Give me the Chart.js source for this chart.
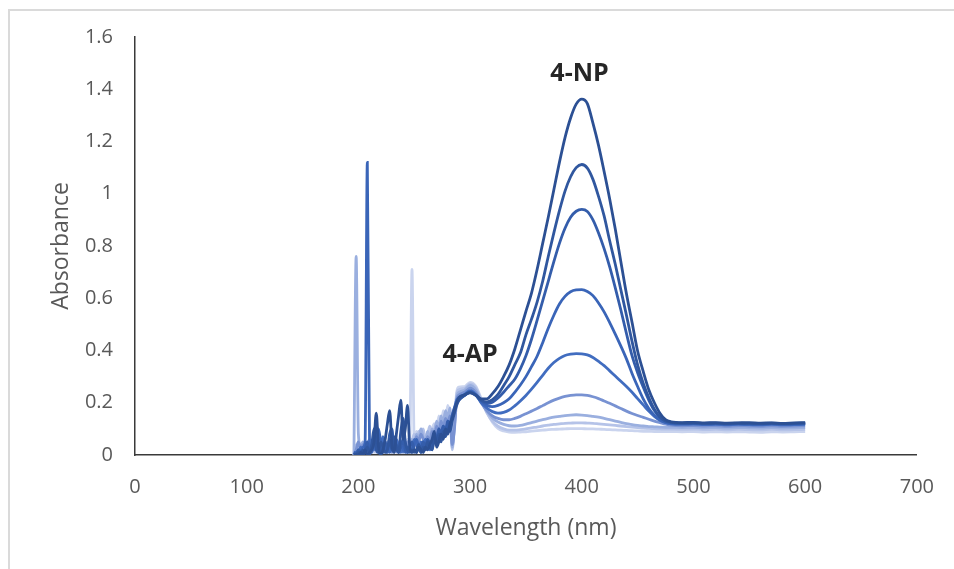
<!DOCTYPE html>
<html>
<head>
<meta charset="utf-8">
<title>UV-vis spectra 4-NP reduction</title>
<script src="https://cdn.jsdelivr.net/npm/chart.js@4.4.1/dist/chart.umd.min.js"></script>
<style>
  html, body { margin: 0; padding: 0; background: #fff; overflow: hidden; }
  #wrap { position: relative; width: 954px; height: 569px; }
  #frame {
    position: absolute; left: 8px; top: 9px; width: 980px; height: 600px;
    border-left: 2px solid #dadada; border-top: 2px solid #dadada;
  }
  #spectra { position: absolute; left: 0; top: 0; width: 954px; height: 569px; }
</style>
</head>
<body>
<div id="wrap">
  <div id="frame"></div>
  <canvas id="spectra" width="954" height="569"></canvas>
</div>
<script>
/**
 * UV-vis absorbance spectra: 4-nitrophenol band (400 nm) fading while
 * the 4-aminophenol band (300 nm) grows.
 */

// Wavelength grid (nm): 2 nm through the noisy UV end, 5 nm over the bands, 10 nm on the flat tail
const WL_UV = [196, 198, 200, 202, 204, 206, 208, 210, 212, 214, 216, 218, 220, 222, 224, 226,
  228, 230, 232, 234, 236, 238, 240, 242, 244, 246, 248, 250, 252, 254, 256, 258, 260, 262,
  264, 266, 268, 270, 272, 274, 276, 278, 280, 282, 284, 286, 288, 290];
const WL_BAND = [295, 300, 305, 310, 315, 320, 325, 330, 335, 340, 345, 350, 355, 360, 365, 370,
  375, 380, 385, 390, 395, 400, 405, 410, 415, 420, 425, 430, 435, 440, 445, 450, 455, 460,
  465, 470, 475];
const WL_TAIL = [480, 490, 500, 510, 520, 530, 540, 550, 560, 570, 580, 590, 600];
const WAVELENGTHS = [...WL_UV, ...WL_BAND, ...WL_TAIL];

// Absorbance per scan, darkest (first) to lightest (last)
const scan1 = [
  0, 0, 0, 0.01, 0, 0.02, 0, 0.01, 0.02, 0.05, 0.16, 0.03, 0, 0.02, 0.06, 0.12, 0.17, 0.04, 0.01, 0.08,
  0.15, 0.21, 0.06, 0.1, 0.19, 0.03, 0.01, 0.02, 0.01, 0.03, 0.02, 0.01, 0.03, 0.02, 0.04, 0.06, 0.09, 0.03, 0.05, 0.08,
  0.06, 0.1, 0.08, 0.12, 0.14, 0.17, 0.2, 0.22,
  0.23, 0.238, 0.23, 0.215, 0.215, 0.235, 0.262, 0.30, 0.345, 0.405, 0.477, 0.55, 0.62, 0.71, 0.81, 0.91, 1.015, 1.12, 1.215, 1.29,
  1.343, 1.362, 1.345, 1.27, 1.185, 1.085, 0.98, 0.865, 0.74, 0.617, 0.508, 0.398, 0.32, 0.25, 0.2, 0.16, 0.135,
  0.127, 0.124, 0.125, 0.123, 0.124, 0.122, 0.123, 0.124, 0.122, 0.123, 0.121, 0.123, 0.124];
const scan2 = [
  0, 0, 0.01, 0, 0.02, 0.01, 0.03, 0, 0.04, 0.1, 0.02, 0.01, 0.05, 0.03, 0.01, 0.02, 0.06, 0.02, 0.07, 0.03,
  0.01, 0.09, 0.14, 0.05, 0.02, 0.01, 0.02, 0.01, 0.02, 0.04, 0.01, 0.03, 0.02, 0.05, 0.03, 0.02, 0.06, 0.04, 0.08, 0.05,
  0.09, 0.07, 0.1, 0.09, 0.13, 0.16, 0.19, 0.21,
  0.228, 0.24, 0.228, 0.21, 0.203, 0.212, 0.232, 0.265, 0.3, 0.345, 0.39, 0.46, 0.52, 0.585, 0.665, 0.76, 0.85, 0.935, 1.01, 1.065,
  1.1, 1.112, 1.098, 1.055, 0.99, 0.915, 0.82, 0.73, 0.632, 0.535, 0.435, 0.345, 0.275, 0.22, 0.175, 0.145, 0.13,
  0.125, 0.122, 0.123, 0.121, 0.122, 0.12, 0.122, 0.121, 0.12, 0.122, 0.12, 0.121, 0.122];
const scan3 = [
  0.01, 0, 0.02, 0.01, 0, 0.02, 0.05, 0.01, 0.03, 0.08, 0.12, 0.02, 0.01, 0.03, 0.05, 0.02, 0.08, 0.1, 0.02, 0.04,
  0.01, 0.03, 0.06, 0.02, 0.01, 0.03, 0.05, 0.02, 0.01, 0.04, 0.02, 0.05, 0.03, 0.06, 0.04, 0.02, 0.07, 0.05, 0.1, 0.08,
  0.11, 0.09, 0.13, 0.12, 0.15, 0.18, 0.2, 0.21,
  0.228, 0.242, 0.23, 0.208, 0.198, 0.202, 0.218, 0.24, 0.265, 0.29, 0.33, 0.38, 0.443, 0.515, 0.59, 0.665, 0.74, 0.81, 0.868, 0.91,
  0.933, 0.94, 0.932, 0.9, 0.85, 0.79, 0.72, 0.64, 0.555, 0.465, 0.38, 0.315, 0.26, 0.21, 0.17, 0.145, 0.13,
  0.124, 0.121, 0.122, 0.12, 0.121, 0.119, 0.121, 0.12, 0.119, 0.121, 0.119, 0.12, 0.121];
const scan4 = [
  0, 0, 0.02, 0.01, 0.03, 0.05, 1.12, 0.04, 0.01, 0.06, 0.02, 0.1, 0.05, 0.01, 0.02, 0.04, 0.01, 0.03, 0.05, 0.02,
  0.01, 0.04, 0.02, 0.01, 0.03, 0.02, 0.01, 0.04, 0.06, 0.03, 0.01, 0.05, 0.03, 0.02, 0.05, 0.03, 0.07, 0.05, 0.09, 0.06,
  0.1, 0.08, 0.12, 0.1, 0.14, 0.17, 0.2, 0.22,
  0.228, 0.242, 0.23, 0.205, 0.19, 0.185, 0.19, 0.2, 0.215, 0.24, 0.268, 0.3, 0.338, 0.378, 0.43, 0.485, 0.535, 0.578, 0.607, 0.625,
  0.632, 0.633, 0.626, 0.61, 0.582, 0.548, 0.507, 0.463, 0.417, 0.368, 0.312, 0.262, 0.215, 0.178, 0.152, 0.135, 0.125,
  0.121, 0.12, 0.121, 0.119, 0.12, 0.118, 0.12, 0.119, 0.118, 0.12, 0.118, 0.119, 0.12];
const scan5 = [
  0.01, 0.01, 0, 0.03, 0.01, 0.02, 0.04, 0.01, 0.03, 0.02, 0.05, 0.01, 0.03, 0.07, 0.02, 0.01, 0.03, 0.05, 0.02, 0.06,
  0.03, 0.01, 0.02, 0.04, 0.01, 0.03, 0.02, 0.06, 0.04, 0.02, 0.05, 0.03, 0.06, 0.04, 0.02, 0.05, 0.08, 0.06, 0.1, 0.07,
  0.11, 0.09, 0.13, 0.11, 0.15, 0.18, 0.21, 0.22,
  0.232, 0.246, 0.232, 0.2, 0.18, 0.166, 0.16, 0.163, 0.172, 0.188, 0.207, 0.228, 0.252, 0.278, 0.305, 0.332, 0.354, 0.37, 0.381, 0.386,
  0.388, 0.387, 0.383, 0.373, 0.358, 0.342, 0.322, 0.302, 0.282, 0.262, 0.24, 0.216, 0.192, 0.168, 0.148, 0.133, 0.124,
  0.119, 0.117, 0.118, 0.116, 0.117, 0.115, 0.117, 0.116, 0.115, 0.117, 0.115, 0.116, 0.117];
const scan6 = [
  0, 0.02, 0.05, 0.02, 0.04, 0.01, 0.03, 0.02, 0.01, 0.04, 0.02, 0.03, 0.01, 0.05, 0.03, 0.02, 0.04, 0.01, 0.03, 0.05,
  0.02, 0.04, 0.01, 0.03, 0.05, 0.02, 0.04, 0.03, 0.07, 0.05, 0.08, 0.06, 0.04, 0.07, 0.05, 0.09, 0.06, 0.11, 0.08, 0.13,
  0.1, 0.14, 0.12, 0.15, 0.04, 0.1, 0.21, 0.23,
  0.24, 0.256, 0.24, 0.2, 0.17, 0.15, 0.14, 0.135, 0.135, 0.14, 0.148, 0.158, 0.168, 0.178, 0.189, 0.2, 0.21, 0.218, 0.224, 0.228,
  0.23, 0.23, 0.228, 0.223, 0.216, 0.207, 0.198, 0.188, 0.178, 0.168, 0.159, 0.151, 0.144, 0.137, 0.13, 0.124, 0.118,
  0.114, 0.112, 0.113, 0.111, 0.112, 0.11, 0.112, 0.111, 0.11, 0.112, 0.11, 0.111, 0.112];
const scan7 = [
  0, 0.76, 0.08, 0.03, 0.05, 0.02, 0.04, 0.06, 0.02, 0.03, 0.05, 0.02, 0.04, 0.01, 0.03, 0.05, 0.02, 0.04, 0.01, 0.03,
  0.05, 0.02, 0.04, 0.02, 0.05, 0.03, 0.06, 0.04, 0.08, 0.06, 0.1, 0.07, 0.05, 0.09, 0.06, 0.1, 0.08, 0.13, 0.1, 0.15,
  0.12, 0.17, 0.14, 0.18, 0.03, 0.11, 0.22, 0.24,
  0.248, 0.266, 0.25, 0.205, 0.168, 0.142, 0.126, 0.117, 0.112, 0.111, 0.113, 0.118, 0.124, 0.13, 0.135, 0.14, 0.145, 0.148, 0.151, 0.153,
  0.154, 0.153, 0.151, 0.148, 0.145, 0.14, 0.135, 0.13, 0.125, 0.12, 0.116, 0.113, 0.111, 0.109, 0.108, 0.107, 0.106,
  0.106, 0.105, 0.106, 0.104, 0.105, 0.103, 0.105, 0.104, 0.103, 0.105, 0.103, 0.104, 0.105];
const scan8 = [
  0, 0.04, 0.02, 0.03, 0.01, 0.04, 0.02, 0.03, 0.05, 0.02, 0.01, 0.04, 0.02, 0.03, 0.05, 0.01, 0.03, 0.02, 0.04, 0.01,
  0.03, 0.05, 0.02, 0.04, 0.01, 0.03, 0.05, 0.08, 0.06, 0.09, 0.07, 0.1, 0.06, 0.08, 0.11, 0.07, 0.1, 0.12, 0.09, 0.14,
  0.11, 0.16, 0.13, 0.17, 0.02, 0.12, 0.23, 0.25,
  0.255, 0.272, 0.258, 0.21, 0.162, 0.13, 0.11, 0.1, 0.095, 0.095, 0.097, 0.1, 0.104, 0.107, 0.111, 0.114, 0.117, 0.119, 0.121, 0.122,
  0.123, 0.123, 0.122, 0.121, 0.119, 0.117, 0.115, 0.113, 0.111, 0.109, 0.107, 0.105, 0.103, 0.102, 0.101, 0.1, 0.099,
  0.099, 0.098, 0.099, 0.097, 0.098, 0.096, 0.098, 0.097, 0.096, 0.098, 0.096, 0.097, 0.098];
const scan9 = [
  0, 0.02, 0.05, 0.03, 0.01, 0.04, 0.02, 0.05, 0.03, 0.01, 0.04, 0.02, 0.05, 0.03, 0.01, 0.04, 0.02, 0.05, 0.03, 0.06,
  0.02, 0.04, 0.05, 0.03, 0.06, 0.04, 0.71, 0.05, 0.09, 0.06, 0.1, 0.08, 0.05, 0.09, 0.07, 0.1, 0.12, 0.08, 0.15, 0.11,
  0.17, 0.13, 0.19, 0.15, 0.03, 0.13, 0.24, 0.26,
  0.262, 0.278, 0.264, 0.215, 0.163, 0.126, 0.102, 0.092, 0.088, 0.087, 0.088, 0.089, 0.091, 0.093, 0.095, 0.097, 0.098, 0.099, 0.1, 0.101,
  0.101, 0.101, 0.1, 0.1, 0.099, 0.098, 0.097, 0.096, 0.095, 0.094, 0.093, 0.092, 0.091, 0.091, 0.09, 0.09, 0.09,
  0.09, 0.089, 0.09, 0.088, 0.089, 0.088, 0.089, 0.088, 0.087, 0.089, 0.088, 0.089, 0.09];

const SCANS = [scan1, scan2, scan3, scan4, scan5, scan6, scan7, scan8, scan9];
const SCAN_COLORS = ["#2c5094", "#30579f", "#345dab", "#3a65b8", "#416dc0", "#7892d2", "#9aafdf", "#b5c3e8", "#cad4ee"];

// Band annotations, anchored in data units (nm, absorbance)
const BAND_LABELS = ["4-NP", "4-AP"];
const BAND_LABEL_NM = [398, 300];
const BAND_LABEL_ABS = [1.46, 0.383];

// Axis ticks
const X_MIN = 0, X_MAX = 700, X_STEP = 100;
const Y_MIN = 0, Y_MAX = 1.6, Y_STEP = 0.2;

const TICK_GRAY = "#595959";
const AXIS_LINE = "#3a3a3a";
const FONT = "'Open Sans', sans-serif";

/**
 * Draws the bold band names over the curves
 */
const bandLabelPlugin = {
  id: "bandLabels",
  afterDatasetsDraw(chart) {
    const { ctx, scales: { x, y } } = chart;
    ctx.save();
    ctx.font = "bold 25px " + FONT;
    ctx.fillStyle = "#262626";
    ctx.textAlign = "center";
    ctx.textBaseline = "middle";
    BAND_LABELS.forEach((text, i) => {
      ctx.fillText(text, x.getPixelForValue(BAND_LABEL_NM[i]), y.getPixelForValue(BAND_LABEL_ABS[i]));
    });
    ctx.restore();
  },
};

function buildDatasets() {
  return SCANS.map((values, i) => ({
    label: "scan " + (i + 1),
    data: values.map((v, j) => ({ x: WAVELENGTHS[j], y: v })),
    borderColor: SCAN_COLORS[i],
    backgroundColor: SCAN_COLORS[i],
    borderWidth: 2.8,
    pointRadius: 0,
    cubicInterpolationMode: "monotone",
    fill: false,
  }));
}

// Excel-style tick text: "1" rather than "1.0"
function plainNumber(value) {
  return String(Number(value.toFixed(2)));
}

new Chart(document.getElementById("spectra"), {
  type: "line",
  data: { datasets: buildDatasets() },
  options: {
    responsive: false,
    animation: false,
    devicePixelRatio: 1,
    layout: { padding: { top: 37, right: 36, bottom: 0, left: 0 } },
    plugins: {
      legend: { display: false },
      tooltip: { enabled: false },
    },
    scales: {
      x: {
        type: "linear",
        min: X_MIN,
        max: X_MAX,
        grid: { display: false, drawTicks: false },
        border: { display: true, color: AXIS_LINE, width: 1.5 },
        ticks: { stepSize: X_STEP, color: TICK_GRAY, padding: 20, font: { family: FONT, size: 20 }, callback: plainNumber },
        title: {
          display: true,
          text: "Wavelength (nm)",
          color: TICK_GRAY,
          font: { family: FONT, size: 23 },
          padding: { top: 0, bottom: 27 },
        },
        afterFit: (scale) => { scale.height = 114; },
      },
      y: {
        min: Y_MIN,
        max: Y_MAX,
        grid: { display: false, drawTicks: false },
        border: { display: true, color: AXIS_LINE, width: 1.5 },
        ticks: { stepSize: Y_STEP, color: TICK_GRAY, padding: 22, font: { family: FONT, size: 20 }, callback: plainNumber },
        title: {
          display: true,
          text: "Absorbance",
          color: TICK_GRAY,
          font: { family: FONT, size: 23 },
          padding: { top: 48, bottom: 0 },
        },
        afterFit: (scale) => { scale.width = 135; },
      },
    },
  },
  plugins: [bandLabelPlugin],
});
</script>
</body>
</html>
